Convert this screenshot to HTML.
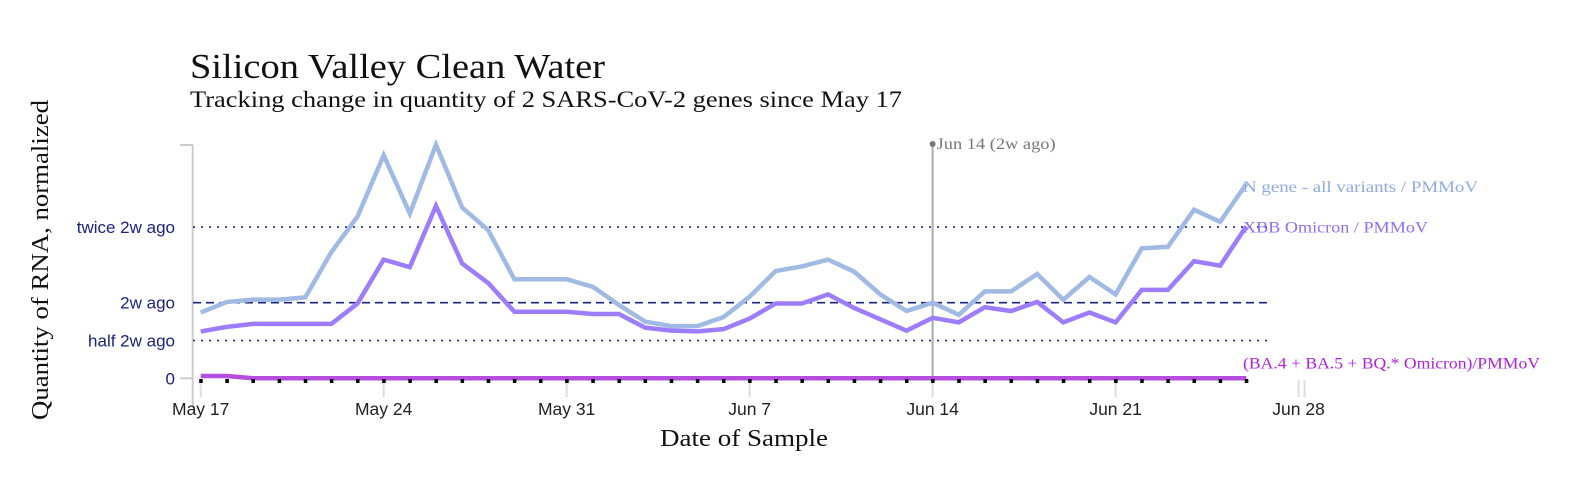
<!DOCTYPE html>
<html><head><meta charset="utf-8"><style>
body{margin:0;background:#fff;}
svg{display:block;}
.serif{font-family:"Liberation Serif",serif;}
.sans{font-family:"Liberation Sans",sans-serif;}
</style></head><body>
<svg id="chart" width="1582" height="488" viewBox="0 0 1582 488">
<text class="serif" x="190" y="78" font-size="35" textLength="415" lengthAdjust="spacingAndGlyphs" fill="#111">Silicon Valley Clean Water</text>
<text class="serif" x="190" y="107" font-size="23" textLength="712" lengthAdjust="spacingAndGlyphs" fill="#111">Tracking change in quantity of 2 SARS-CoV-2 genes since May 17</text>
<text class="serif" transform="translate(48,260) rotate(-90)" text-anchor="middle" font-size="24" textLength="320" lengthAdjust="spacingAndGlyphs" fill="#111">Quantity of RNA, normalized</text>
<text class="serif" x="744" y="446" text-anchor="middle" font-size="24" textLength="168" lengthAdjust="spacingAndGlyphs" fill="#111">Date of Sample</text>
<g id="g"></g>
</svg>
<script>
const nGene=[0.87,1.01,1.04,1.04,1.07,1.67,2.14,2.95,2.18,3.09,2.26,1.96,1.31,1.31,1.31,1.21,0.97,0.75,0.69,0.69,0.81,1.08,1.42,1.48,1.57,1.41,1.11,0.89,1.0,0.84,1.15,1.15,1.38,1.04,1.34,1.11,1.72,1.74,2.23,2.07,2.57];
const xbb=[0.62,0.68,0.72,0.72,0.72,0.72,0.99,1.57,1.47,2.28,1.52,1.26,0.88,0.88,0.88,0.85,0.85,0.67,0.63,0.62,0.65,0.79,0.99,0.99,1.11,0.93,0.78,0.63,0.80,0.74,0.94,0.89,1.01,0.74,0.87,0.74,1.17,1.17,1.55,1.49,2.01];
const ba=[0.03,0.03,0,0,0,0,0,0,0,0,0,0,0,0,0,0,0,0,0,0,0,0,0,0,0,0,0,0,0,0,0,0,0,0,0,0,0,0,0,0,0];
const xTickDays=[0,7,14,21,28,35,42];
const xTickLabels=["May 17","May 24","May 31","Jun 7","Jun 14","Jun 21","Jun 28"];
const yRefVals=[0.5,1,2];
const yRefLabels=["half 2w ago","2w ago","twice 2w ago"];
const refDay=28;

const NS="http://www.w3.org/2000/svg";
const g=document.getElementById('g');
const X=d=>200.7+d*26.14;
const Y=v=>378.3-v*75.6;
function mk(t,a,txt){const e=document.createElementNS(NS,t);for(const k in a)e.setAttribute(k,a[k]);if(txt!==undefined)e.textContent=txt;g.appendChild(e);return e;}

let e=mk('line',{x1:192.7,y1:145,x2:192.7,y2:408,stroke:'#ccc','stroke-width':2});


e=mk('line',{x1:180,y1:145,x2:193,y2:145,stroke:'#ccc','stroke-width':2});


e=mk('line',{x1:180,y1:Y(0),x2:193,y2:Y(0),stroke:'#ccc','stroke-width':2});


e=mk('text',{x:175,y:Y(0)+6,'text-anchor':'end','font-size':17,fill:'#1a237e',class:'sans'},'0');


yRefVals.forEach((v,i)=>{
  const l=mk('line',{x1:193,y1:Y(v),x2:1268,y2:Y(v),stroke:'#1a237e','stroke-width':1.6,'stroke-dasharray':v===1?'8,5':'2,6'});
  
  
  const t=mk('text',{x:175,y:Y(v)+6,'text-anchor':'end','font-size':17,fill:'#1a237e',class:'sans'},yRefLabels[i]);
  
  
});
xTickDays.forEach((d,i)=>{
  const l=mk('line',{x1:X(d),y1:380,x2:X(d),y2:397,stroke:'#ddd','stroke-width':2});
  
  
  const t=mk('text',{x:X(d),y:415,'text-anchor':'middle','font-size':17.5,fill:'#222',class:'sans'},xTickLabels[i]);
  
  
});
e=mk('line',{x1:X(42)+6,y1:380,x2:X(42)+6,y2:397,stroke:'#ddd','stroke-width':2});


e=mk('line',{x1:X(refDay),y1:144,x2:X(refDay),y2:Y(0),stroke:'#aaa','stroke-width':2});


e=mk('circle',{cx:X(refDay),cy:144,r:3,fill:'#777'});


e=mk('text',{x:X(refDay)+4,y:149,'font-size':16,textLength:119,lengthAdjust:'spacingAndGlyphs',fill:'#777',class:'serif'},'Jun 14 (2w ago)');


function series(arr,color,name){
  const p=mk('polyline',{points:arr.map((v,i)=>X(i)+','+Y(v)).join(' '),fill:'none',stroke:color,'stroke-width':4.5,'stroke-linejoin':'miter'});
  
  
}
series(nGene,'#a0bae4','n-gene-line');
series(xbb,'#9d7dfb','xbb-line');
series(ba,'#b54ddf','ba-line');
ba.forEach((v,i)=>{
  const r=mk('rect',{x:X(i)-1.5,y:379,width:3.5,height:4,fill:'#000'});
  
  
});
const last=nGene.length-1;
const lx=1243;
e=mk('text',{x:lx,y:Y(nGene[last])+8,'font-size':16,textLength:235,lengthAdjust:'spacingAndGlyphs',fill:'#8fabe0',class:'serif'},'N gene - all variants / PMMoV');


e=mk('text',{x:lx,y:Y(xbb[last])+6,'font-size':16,textLength:185,lengthAdjust:'spacingAndGlyphs',fill:'#8f6ef8',class:'serif'},'XBB Omicron / PMMoV');


e=mk('text',{x:lx,y:Y(ba[last])-10,'font-size':16,textLength:297,lengthAdjust:'spacingAndGlyphs',fill:'#b020e0',class:'serif'},'(BA.4 + BA.5 + BQ.* Omicron)/PMMoV');


</script>
</body></html>
